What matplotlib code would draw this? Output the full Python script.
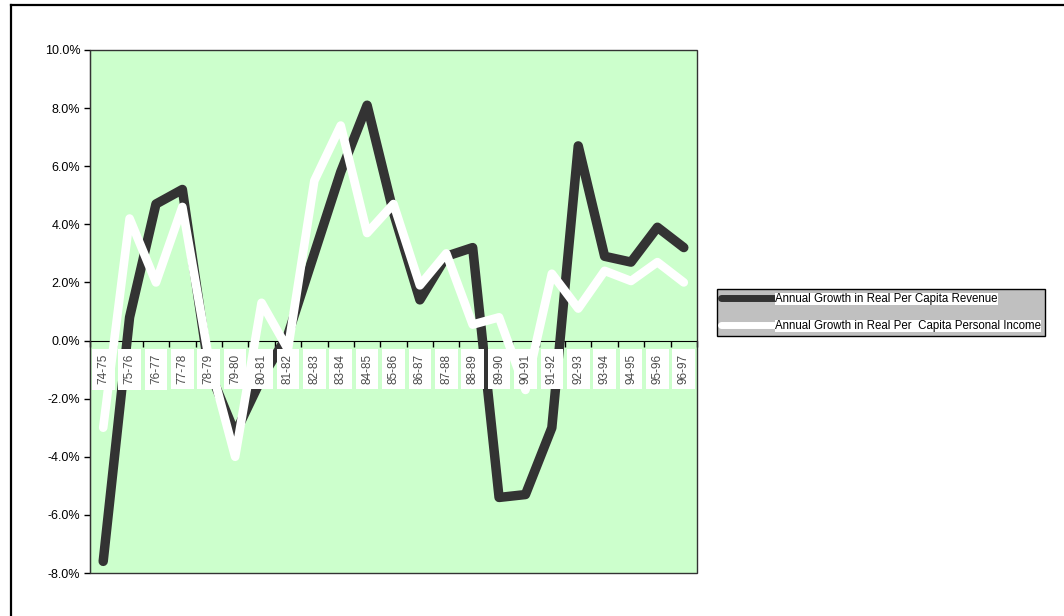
import numpy as np
import matplotlib
matplotlib.use("Agg")
import matplotlib.pyplot as plt
from matplotlib.lines import Line2D
from matplotlib.patches import Rectangle

plt.rcParams["font.family"] = ["Liberation Sans", "DejaVu Sans"]

# Fiscal years and annual growth rates (percent)
years = ["74-75", "75-76", "76-77", "77-78", "78-79", "79-80", "80-81", "81-82",
         "82-83", "83-84", "84-85", "85-86", "86-87", "87-88", "88-89", "89-90",
         "90-91", "91-92", "92-93", "93-94", "94-95", "95-96", "96-97"]
revenue_growth = [-7.6, 0.8, 4.7, 5.2, -1.0, -3.2, -1.3, 0.2,
                  3.0, 5.8, 8.1, 4.4, 1.4, 2.9, 3.2, -5.4,
                  -5.3, -3.0, 6.7, 2.9, 2.7, 3.9, 3.2]
income_growth = [-3.0, 4.2, 2.0, 4.6, -0.6, -4.0, 1.3, -0.3,
                 5.5, 7.4, 3.7, 4.7, 1.9, 3.0, 0.55, 0.8,
                 -1.7, 2.3, 1.1, 2.4, 2.05, 2.7, 2.0]

rev_label = "Annual Growth in Real Per Capita Revenue"
inc_label = "Annual Growth in Real Per  Capita Personal Income"

W, H = 1064, 616
fig = plt.figure(figsize=(W / 100, H / 100), dpi=100)

# outer chart frame (only top and left edges fall inside the image)
fig.add_artist(Line2D([11 / W, 11 / W], [0, 1 - 5 / H], color="black", lw=1.6))
fig.add_artist(Line2D([11 / W, 1], [1 - 5 / H, 1 - 5 / H], color="black", lw=1.6))

ax = fig.add_axes([90 / W, 1 - 573 / H, (697 - 90) / W, (573 - 50) / H])
ax.set_facecolor("#CCFFCC")

x = np.arange(len(years))
ax.plot(x, revenue_growth, color="#333333", lw=6.8, solid_capstyle="round",
        solid_joinstyle="round", label=rev_label, zorder=3)
ax.plot(x, income_growth, color="white", lw=6.2, solid_capstyle="round",
        solid_joinstyle="round", label=inc_label, zorder=4)

ax.set_xlim(-0.5, len(years) - 0.5)
ax.set_ylim(-8, 10)
ax.set_yticks(np.arange(-8, 10.1, 2))
ax.set_yticklabels([f"{v:.1f}%" for v in np.arange(-8, 10.1, 2)], fontsize=9)
ax.tick_params(axis="y", direction="out", length=4, width=1, pad=3)

# category axis sits on the zero line, ticks between categories
for side in ("top", "right"):
    ax.spines[side].set_visible(False)
ax.spines["bottom"].set_position(("data", 0))
ax.spines["bottom"].set_zorder(2)
ax.set_xticks(np.arange(-0.5, len(years)))
ax.set_xticklabels([])
ax.tick_params(axis="x", direction="out", length=4, width=1)
ax.add_patch(Rectangle((0, 0), 1, 1, transform=ax.transAxes, fill=False,
                       edgecolor="#333333", lw=1.0, zorder=5, clip_on=False))

for i, yr in enumerate(years):
    ax.text(i, -0.98, yr, rotation=90, ha="center", va="center", fontsize=8.5,
            color="#4a4a4a", zorder=6,
            bbox=dict(boxstyle="square,pad=0.45", facecolor="white", edgecolor="none"))

leg = fig.legend(loc="upper left", bbox_to_anchor=(717 / W, 1 - 289 / H),
                 fontsize=8.3, frameon=True, fancybox=False, framealpha=1,
                 facecolor="#C0C0C0", edgecolor="black", borderpad=0.35,
                 handlelength=4.6, handletextpad=0.1, labelspacing=1.3,
                 borderaxespad=0)
leg.get_frame().set_linewidth(1.0)
for h in leg.legend_handles:
    h.set_linewidth(5)
for t in leg.get_texts():
    t.set_bbox(dict(facecolor="white", edgecolor="none", pad=0))

fig.savefig("out.png", dpi=100)
